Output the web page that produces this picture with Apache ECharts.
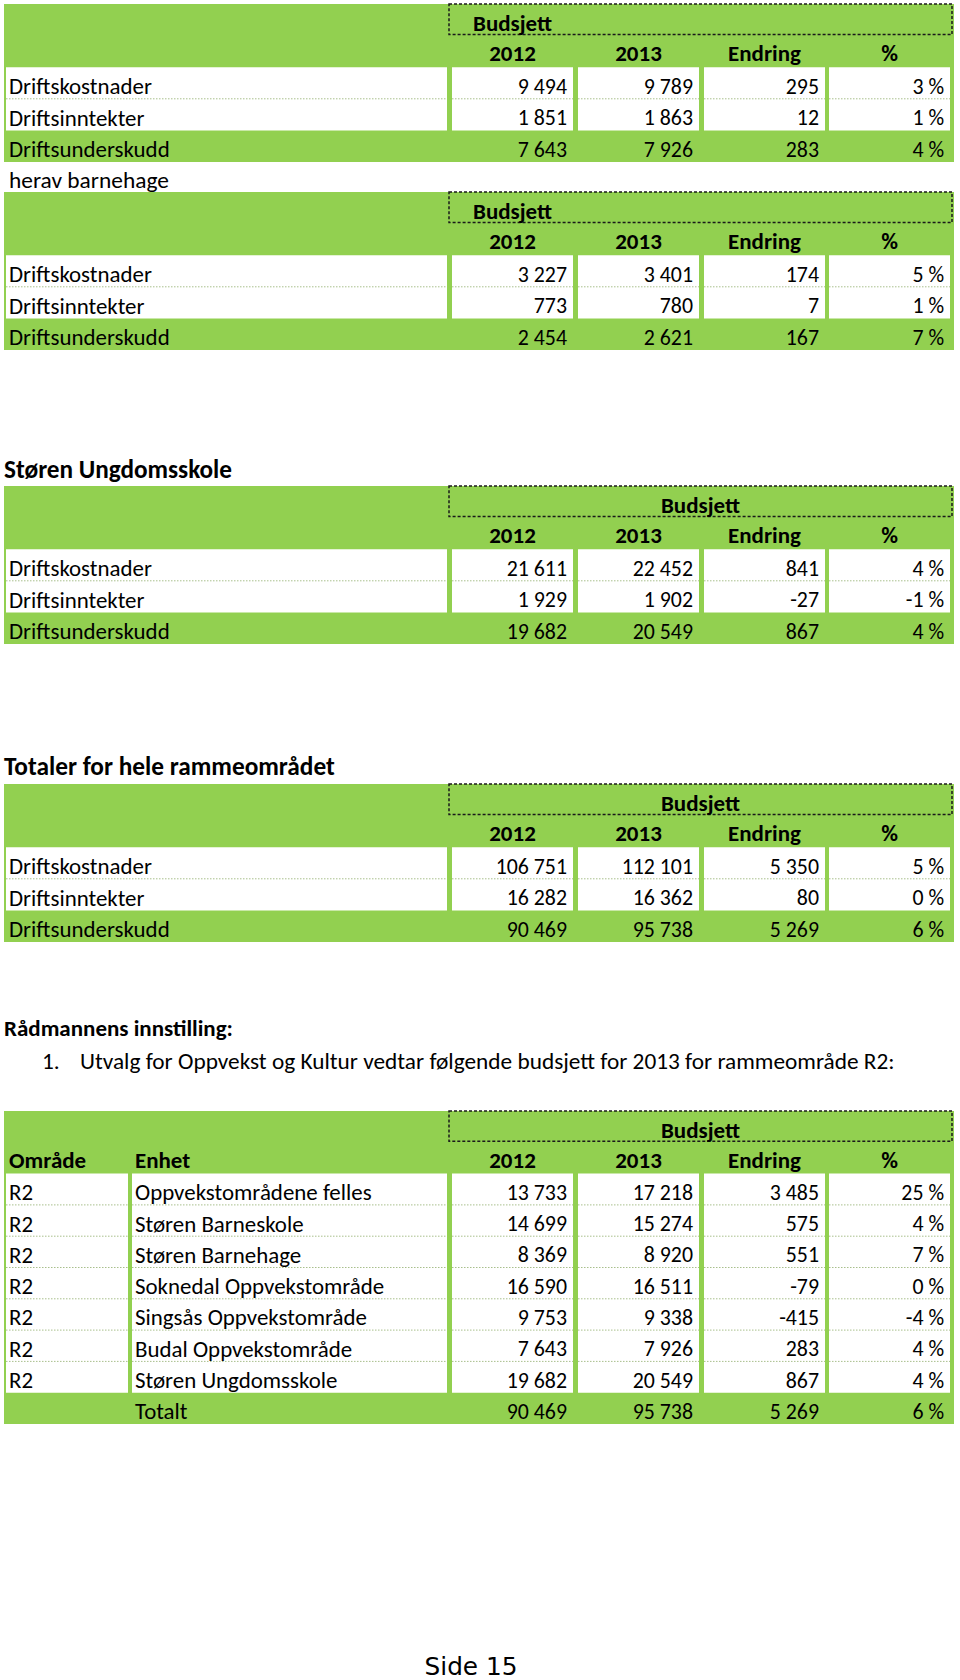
<!DOCTYPE html>
<html>
<head>
<meta charset="utf-8">
<script src="https://cdn.jsdelivr.net/npm/echarts@6/dist/echarts.min.js"></script>
<style>
  html, body { margin: 0; padding: 0; background: #ffffff; }
  #chart { width: 960px; height: 1680px; }
</style>
</head>
<body>
<div id="chart"></div>
<script>
// ---------------- DATA ----------------
const budgetLabel = 'Budsjett';
const colHeaders = ['2012', '2013', 'Endring', '%'];
const rowLabels = ['Driftskostnader', 'Driftsinntekter', 'Driftsunderskudd'];

const budal2012 = [9494, 1851, 7643];
const budal2013 = [9789, 1863, 7926];
const budalEndring = [295, 12, 283];
const budalPct = [3, 1, 4];

const barnehageTitle = 'herav barnehage';
const barnehage2012 = [3227, 773, 2454];
const barnehage2013 = [3401, 780, 2621];
const barnehageEndring = [174, 7, 167];
const barnehagePct = [5, 1, 7];

const ungdomTitle = 'Støren Ungdomsskole';
const ungdom2012 = [21611, 1929, 19682];
const ungdom2013 = [22452, 1902, 20549];
const ungdomEndring = [841, -27, 867];
const ungdomPct = [4, -1, 4];

const totalTitle = 'Totaler for hele rammeområdet';
const total2012 = [106751, 16282, 90469];
const total2013 = [112101, 16362, 95738];
const totalEndring = [5350, 80, 5269];
const totalPct = [5, 0, 6];

const recommendationTitle = 'Rådmannens innstilling:';
const recommendationNumber = '1.';
const recommendationText = 'Utvalg for Oppvekst og Kultur vedtar følgende budsjett for 2013 for rammeområde R2:';

const r2Headers = ['Område', 'Enhet'];
const r2Omrade = ['R2', 'R2', 'R2', 'R2', 'R2', 'R2', 'R2'];
const r2Enhet = ['Oppvekstområdene felles', 'Støren Barneskole', 'Støren Barnehage',
  'Soknedal Oppvekstområde', 'Singsås Oppvekstområde', 'Budal Oppvekstområde', 'Støren Ungdomsskole'];
const r2_2012 = [13733, 14699, 8369, 16590, 9753, 7643, 19682];
const r2_2013 = [17218, 15274, 8920, 16511, 9338, 7926, 20549];
const r2Endring = [3485, 575, 551, -79, -415, 283, 867];
const r2Pct = [25, 4, 7, 0, -4, 4, 4];
const r2TotalLabel = 'Totalt';
const r2Total = [90469, 95738, 5269, 6];

const pageLabel = 'Side 15';

// ---------------- LAYOUT / STYLE ----------------
const GREEN = '#92D050';
const WHITE = '#ffffff';
const DOT = '#a8bf8c';
const FONT = 'Carlito, Calibri, Lato, sans-serif';
const PAGE_FONT = '"DejaVu Sans", Verdana, sans-serif';
const L = {
  left: 4, right: 954,
  labelCol: [6, 447],
  numCols: [[452, 573], [578, 699], [704, 825], [829, 950]],
  omradeCol: [6, 128], enhetCol: [132, 447],
  box: [449, 952],
  textPadL: 3, textPadR: 6
};

// font sizes fitted so that sample strings get the widths they have in the page
const measureCtx = document.createElement('canvas').getContext('2d');
function fit(str, width, weight, family) {
  measureCtx.font = weight + ' 100px ' + family;
  return 100 * width / measureCtx.measureText(str).width;
}
const SZ = {
  label: 0.96 * (fit('Driftskostnader', 150, 'normal', FONT) + fit('Singsås Oppvekstområde', 240, 'normal', FONT)) / 2,
  plain: fit('herav barnehage', 160, 'normal', FONT),
  num: 1.03 * (fit('9 494', 48, 'normal', FONT) + fit('106 751', 69, 'normal', FONT)) / 2,
  head: (fit('Budsjett', 80, 'bold', FONT) + fit('Endring', 72, 'bold', FONT)) / 2,
  titleUngdom: fit(ungdomTitle, 228, 'bold', FONT),
  titleTotal: fit(totalTitle, 331, 'bold', FONT),
  titleRec: fit(recommendationTitle, 229, 'bold', FONT),
  sentence: fit(recommendationText, 815, 'normal', FONT),
  page: fit('Side 15', 93, 'normal', PAGE_FONT)
};

const fmtNum = v => {
  const s = Math.abs(v).toString().replace(/\B(?=(\d{3})+(?!\d))/g, ' ');
  return (v < 0 ? '-' : '') + s;
};
const fmtPct = v => v + ' %';

const cells = [];
function rect(x0, y0, x1, y1, fill) { cells.push({ kind: 'rect', value: [x0, y0, x1, y1], fill }); }
function box(x0, y0, x1, y1) { cells.push({ kind: 'box', value: [x0, y0, x1, y1] }); }
function hline(x0, x1, y) { cells.push({ kind: 'line', value: [x0, y, x1, y] }); }
function text(x, y, t, o) {
  o = o || {};
  cells.push({ kind: 'text', value: [x, y, x, y], text: t, align: o.align || 'left',
    vAlign: o.vAlign || 'middle', bold: !!o.bold, size: o.size || SZ.label, family: o.family || FONT });
}

function numRow(y, vals) {
  vals.forEach((v, i) => {
    const s = i === 3 ? fmtPct(v) : fmtNum(v);
    text(L.numCols[i][1] - L.textPadR, y, s, { align: 'right', size: SZ.num });
  });
}

function headerRows(top, rh, budAlign) {
  box(L.box[0], top, L.box[1], top + rh - 1);
  if (budAlign === 'left') text(473, top + rh / 2 + 3.5, budgetLabel, { bold: true, size: SZ.head });
  else text((L.box[0] + L.box[1]) / 2, top + rh / 2 + 3.5, budgetLabel, { bold: true, align: 'center', size: SZ.head });
  colHeaders.forEach((h, i) => {
    text((L.numCols[i][0] + L.numCols[i][1]) / 2, top + 1.5 * rh + 2, h, { bold: true, align: 'center', size: SZ.head });
  });
}

function tableA(top, v12, v13, vEnd, vPct, budAlign) {
  const rh = 31.6;
  rect(L.left, top, L.right, top + 5 * rh, GREEN);
  headerRows(top, rh, budAlign);
  const wTop = top + 2 * rh, wBot = top + 4 * rh;
  rect(L.labelCol[0], wTop, L.labelCol[1], wBot, WHITE);
  L.numCols.forEach(c => rect(c[0], wTop, c[1], wBot, WHITE));
  hline(L.labelCol[0], L.labelCol[1], wTop + rh);
  L.numCols.forEach(c => hline(c[0], c[1], wTop + rh));
  for (let r = 0; r < 3; r++) {
    const yc = top + (2.5 + r) * rh + 3;
    text(L.labelCol[0] + L.textPadL, yc, rowLabels[r]);
    numRow(yc, [v12[r], v13[r], vEnd[r], vPct[r]]);
  }
}

function tableR2(top) {
  const rh = 31.3;
  const n = r2Enhet.length;
  rect(L.left, top, L.right, top + (n + 3) * rh, GREEN);
  headerRows(top, rh, 'center');
  text(L.omradeCol[0] + L.textPadL, top + 1.5 * rh + 2, r2Headers[0], { bold: true, size: SZ.head });
  text(L.enhetCol[0] + L.textPadL, top + 1.5 * rh + 2, r2Headers[1], { bold: true, size: SZ.head });
  const wTop = top + 2 * rh, wBot = top + (2 + n) * rh;
  const cols = [L.omradeCol, L.enhetCol].concat(L.numCols);
  cols.forEach(c => rect(c[0], wTop, c[1], wBot, WHITE));
  for (let r = 1; r < n; r++) cols.forEach(c => hline(c[0], c[1], wTop + r * rh));
  for (let r = 0; r < n; r++) {
    const yc = wTop + (r + 0.5) * rh + 3;
    text(L.omradeCol[0] + L.textPadL, yc, r2Omrade[r]);
    text(L.enhetCol[0] + L.textPadL, yc, r2Enhet[r]);
    numRow(yc, [r2_2012[r], r2_2013[r], r2Endring[r], r2Pct[r]]);
  }
  const yt = wBot + 0.5 * rh + 3;
  text(L.enhetCol[0] + L.textPadL, yt, r2TotalLabel);
  numRow(yt, r2Total);
}

tableA(4, budal2012, budal2013, budalEndring, budalPct, 'left');
text(9, 180, barnehageTitle, { size: SZ.plain });
tableA(192, barnehage2012, barnehage2013, barnehageEndring, barnehagePct, 'left');
text(4, 469, ungdomTitle, { bold: true, size: SZ.titleUngdom });
tableA(486, ungdom2012, ungdom2013, ungdomEndring, ungdomPct, 'center');
text(4, 766, totalTitle, { bold: true, size: SZ.titleTotal });
tableA(784, total2012, total2013, totalEndring, totalPct, 'center');
text(4, 1028, recommendationTitle, { bold: true, size: SZ.titleRec });
text(42, 1061, recommendationNumber, { size: SZ.sentence });
text(80, 1061, recommendationText, { size: SZ.sentence });
tableR2(1111);
text(471, 1679, pageLabel, { align: 'center', vAlign: 'bottom', size: SZ.page, family: PAGE_FONT });

// ---------------- CHART ----------------
const chart = echarts.init(document.getElementById('chart'), null, { renderer: 'svg', width: 960, height: 1680 });

function renderItem(params, api) {
  const c = cells[params.dataIndex];
  const p0 = api.coord([api.value(0), api.value(1)]);
  const p1 = api.coord([api.value(2), api.value(3)]);
  if (c.kind === 'rect') {
    return { type: 'rect', shape: { x: p0[0], y: p0[1], width: p1[0] - p0[0], height: p1[1] - p0[1] },
      style: { fill: c.fill }, silent: true };
  }
  if (c.kind === 'box') {
    return { type: 'rect', shape: { x: p0[0], y: p0[1], width: p1[0] - p0[0], height: p1[1] - p0[1] },
      style: { fill: null, stroke: '#1a1a1a', lineWidth: 1.5, lineDash: [3, 2] }, silent: true };
  }
  if (c.kind === 'line') {
    return { type: 'line', shape: { x1: p0[0], y1: p0[1], x2: p1[0], y2: p1[1] },
      style: { stroke: DOT, lineWidth: 1, lineDash: [1.5, 1.5] }, silent: true };
  }
  return { type: 'text', x: p0[0], y: p0[1], silent: true,
    style: { text: c.text, fill: '#000000', align: c.align, verticalAlign: c.vAlign,
      fontSize: c.size, fontFamily: c.family, fontWeight: c.bold ? 'bold' : 'normal' } };
}

chart.setOption({
  animation: false,
  backgroundColor: '#ffffff',
  grid: { left: 0, top: 0, width: 960, height: 1680, show: false },
  xAxis: { type: 'value', min: 0, max: 960, show: false },
  yAxis: { type: 'value', min: 0, max: 1680, inverse: true, show: false },
  series: [{
    type: 'custom',
    coordinateSystem: 'cartesian2d',
    clip: false,
    renderItem: renderItem,
    encode: { x: [0, 2], y: [1, 3] },
    data: cells.map(c => ({ value: c.value }))
  }]
});
</script>
</body>
</html>
